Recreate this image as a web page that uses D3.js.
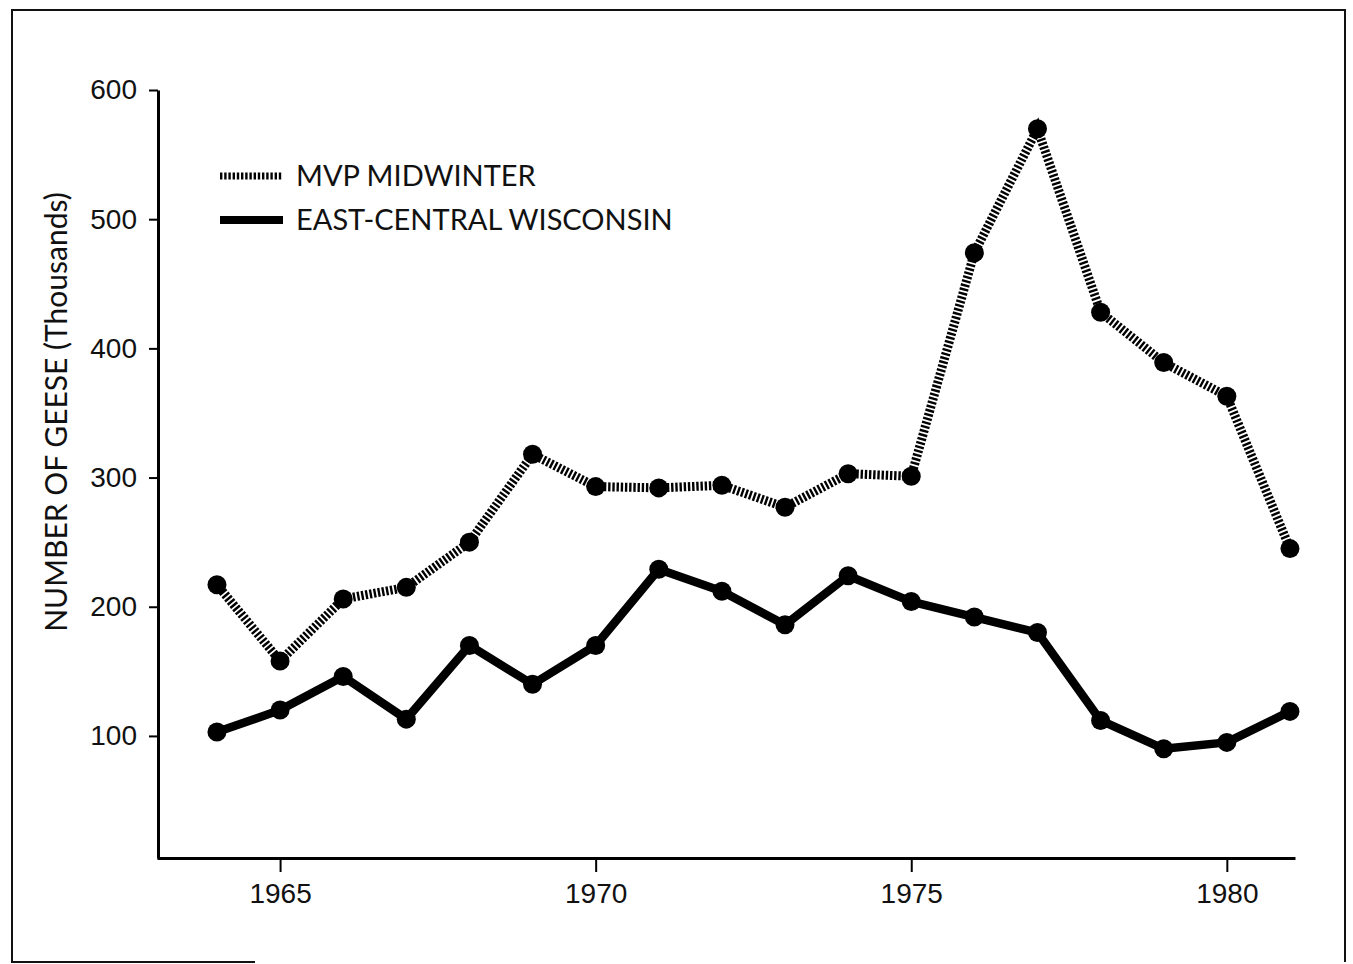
<!DOCTYPE html>
<html>
<head>
<meta charset="utf-8">
<script src="https://cdn.jsdelivr.net/npm/d3@7"></script>
<style>
	body { margin: 0; background: #fff; }
	svg { display: block; font-family: Lato, 'DejaVu Sans', sans-serif; }
</style>
</head>
<body>
<div id="chart"></div>
<script>
const years = [1964, 1965, 1966, 1967, 1968, 1969, 1970, 1971, 1972, 1973, 1974, 1975, 1976, 1977, 1978, 1979, 1980, 1981]
const mvpMidwinter = [217, 158, 206, 215, 250, 318, 293, 292, 294, 277, 303, 301, 474, 570, 428, 389, 363, 245]
const eastCentral = [103, 120, 146, 113, 170, 140, 170, 229, 212, 186, 224, 204, 192, 180, 112, 90, 95, 119]
const yTicks = [100, 200, 300, 400, 500, 600]
const xTicks = [1965, 1970, 1975, 1980]
const seriesNames = ['MVP MIDWINTER', 'EAST-CENTRAL WISCONSIN']

const chart = {
	width: 1353,
	height: 964,

	draw(element) {
		const svg = d3
			.select(`#${element}`)
			.append('svg')
			.attr('width', this.width)
			.attr('height', this.height)

		// outer frame of the figure (bottom edge only partly visible in the scan)
		svg
			.append('path')
			.attr('d', 'M255,962 H12 V10 H1345 V962')
			.attr('fill', 'none')
			.attr('stroke', '#111')
			.attr('stroke-width', 2)

		const x = d3
			.scaleLinear()
			.domain([1963.05, 1981.08])
			.range([157, 1295])

		const y = d3
			.scaleLinear()
			.domain([5.5, 600])
			.range([858, 90])

		const xAxis = g =>
			g
				.attr('transform', 'translate(0,858)')
				.call(d3.axisBottom(x).tickValues(xTicks).tickFormat(d3.format('d')).tickSize(14).tickSizeOuter(0).tickPadding(11))
				.call(g => g.select('.domain').attr('stroke-width', 3))
				.call(g => g.selectAll('.tick line').attr('stroke-width', 2))
				.call(g => g.selectAll('text').attr('font-size', 28).attr('fill', '#111'))

		const yAxis = g =>
			g
				.attr('transform', 'translate(158,0)')
				.call(d3.axisLeft(y).tickValues(yTicks).tickSize(9).tickSizeOuter(0).tickPadding(12))
				.call(g => g.select('.domain').attr('stroke-width', 3))
				.call(g => g.selectAll('.tick line').attr('stroke-width', 2))
				.call(g => g.selectAll('text').attr('font-size', 28).attr('fill', '#111'))

		svg.append('g').call(xAxis)
		svg.append('g').call(yAxis)

		svg
			.append('text')
			.attr('transform', 'translate(67,412) rotate(-90)')
			.style('text-anchor', 'middle')
			.attr('font-size', 30)
			.attr('fill', '#111')
			.text('NUMBER OF GEESE (Thousands)')

		const line = d3
			.line()
			.x((d, i) => x(years[i]))
			.y(d => y(d))

		const plot = svg.append('g')

		plot
			.append('path')
			.datum(mvpMidwinter)
			.attr('d', line)
			.attr('fill', 'none')
			.attr('stroke', '#000')
			.attr('stroke-width', 9)
			.attr('stroke-dasharray', '2.4,1.8')

		plot
			.append('path')
			.datum(eastCentral)
			.attr('d', line)
			.attr('fill', 'none')
			.attr('stroke', '#000')
			.attr('stroke-width', 8.5)
			.attr('stroke-linejoin', 'round')

		const series = [mvpMidwinter, eastCentral]
		series.forEach(values => {
			plot
				.append('g')
				.selectAll('circle')
				.data(values)
				.enter()
				.append('circle')
				.attr('cx', (d, i) => x(years[i]))
				.attr('cy', d => y(d))
				.attr('r', 9.5)
				.attr('fill', '#000')
		})

		// legend
		const legend = svg.append('g').attr('transform', 'translate(220,176)')
		seriesNames.forEach((name, i) => {
			const row = legend.append('g').attr('transform', `translate(0,${i * 44})`)
			row
				.append('line')
				.attr('x1', 0)
				.attr('x2', 63)
				.attr('stroke', '#000')
				.attr('stroke-width', i === 0 ? 7 : 8)
				.attr('stroke-dasharray', i === 0 ? '2.4,1.8' : null)
			row
				.append('text')
				.attr('x', 76)
				.attr('dy', '0.36em')
				.attr('font-size', 29)
				.attr('fill', '#111')
				.text(name)
		})
	}
}

chart.draw('chart')
</script>
</body>
</html>
